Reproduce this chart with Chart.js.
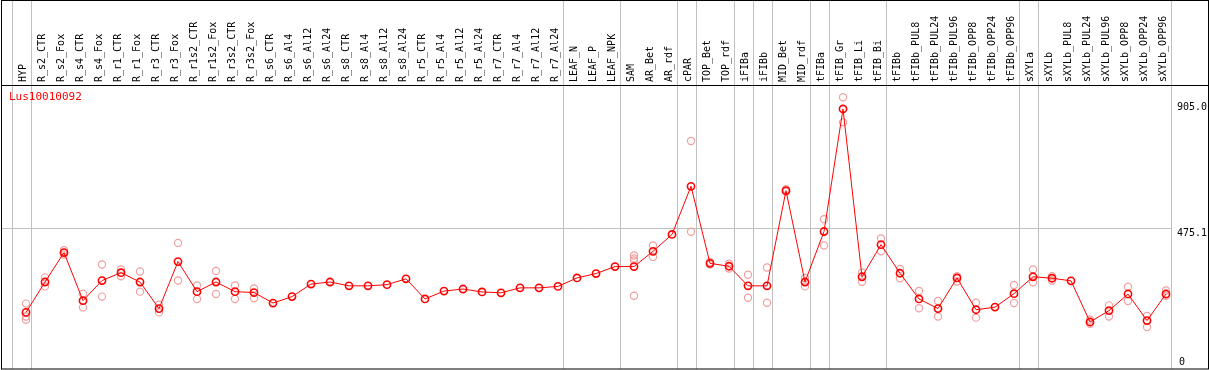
<!DOCTYPE html>
<html>
<head>
<meta charset="utf-8">
<script src="https://cdn.jsdelivr.net/npm/chart.js"></script>
<style>
  html, body { margin: 0; padding: 0; background: #fff; }
  canvas { display: block; }
</style>
</head>
<body>
<canvas id="chart" width="1209" height="370"></canvas>
<script>
const geneName = 'Lus10010092';

const categories = [
  'HYP', 'R_s2_CTR', 'R_s2_Fox', 'R_s4_CTR', 'R_s4_Fox', 'R_r1_CTR', 'R_r1_Fox',
  'R_r3_CTR', 'R_r3_Fox', 'R_r1s2_CTR', 'R_r1s2_Fox', 'R_r3s2_CTR', 'R_r3s2_Fox',
  'R_s6_CTR', 'R_s6_Al4', 'R_s6_Al12', 'R_s6_Al24', 'R_s8_CTR', 'R_s8_Al4',
  'R_s8_Al12', 'R_s8_Al24', 'R_r5_CTR', 'R_r5_Al4', 'R_r5_Al12', 'R_r5_Al24',
  'R_r7_CTR', 'R_r7_Al4', 'R_r7_Al12', 'R_r7_Al24', 'LEAF_N', 'LEAF_P', 'LEAF_NPK',
  'SAM', 'AR_Bet', 'AR_rdf', 'cPAR', 'TOP_Bet', 'TOP_rdf', 'iFIBa', 'iFIBb',
  'MID_Bet', 'MID_rdf', 'tFIBa', 'tFIB_Gr', 'tFIB_Li', 'tFIB_Bi', 'tFIBb',
  'tFIBb_PUL8', 'tFIBb_PUL24', 'tFIBb_PUL96', 'tFIBb_OPP8', 'tFIBb_OPP24', 'tFIBb_OPP96',
  'sXYLa', 'sXYLb', 'sXYLb_PUL8', 'sXYLb_PUL24', 'sXYLb_PUL96', 'sXYLb_OPP8',
  'sXYLb_OPP24', 'sXYLb_OPP96'
];

// mean expression per sample
const meanValues = [
  187, 291, 392, 227, 296, 323, 291, 200, 361, 258, 291, 258, 255,
  219, 241, 284, 291, 278, 278, 282, 302, 233, 260, 267, 257, 254, 271, 271, 276,
  305, 320, 344,
  344, 396, 454, 619, 355, 345, 278, 278, 604, 291, 464, 884, 309, 419, 321,
  233, 200, 305, 196, 205, 251,
  309, 304, 295, 154, 193, 250, 159, 250
];

// individual replicates (empty where only the mean is shown)
const replicates = [
  [217, 173, 162], [307, 276], [400, 385], [251, 204], [351, 241], [334, 311], [327, 258],
  [213, 187], [425, 296], [279, 233], [329, 250], [279, 233], [269, 235],
  [], [], [], [], [], [], [], [], [], [], [], [], [], [], [], [],
  [], [], [],
  [382, 372, 365, 244], [416, 377], [], [774, 463], [360, 351], [354, 337],
  [316, 237], [341, 220], [609, 600], [305, 276], [506, 416], [924, 838],
  [324, 292], [440, 396], [336, 304],
  [260, 201], [226, 173], [311, 293], [220, 169], [], [281, 219],
  [334, 290], [311, 296], [], [162, 148], [211, 173], [275, 226], [175, 137], [262, 244]
];

const yTicks = [0, 475.1, 905.0];
const gridValue = 475.1;

// first sample of each group (vertical separators), plus the end
const groupStarts = ['HYP', 'R_s2_CTR', 'LEAF_N', 'SAM', 'cPAR', 'TOP_Bet', 'iFIBa',
  'iFIBb', 'MID_Bet', 'tFIBa', 'tFIB_Gr', 'tFIBb', 'sXYLa', 'sXYLb'];

const monoFont = '"DejaVu Sans Mono", "Liberation Mono", monospace';

const meanPoints = meanValues.map((v, i) => ({ x: i, y: v }));
const repPoints = [];
replicates.forEach((list, i) => list.forEach(v => repPoints.push({ x: i, y: v })));

const framePlugin = {
  id: 'frame',
  beforeDatasetsDraw(chart) {
    const { ctx, scales: { x, y }, chartArea } = chart;
    ctx.save();
    ctx.strokeStyle = '#c0c0c0';
    ctx.lineWidth = 1;
    const sepIdx = groupStarts.map(n => categories.indexOf(n)).concat([categories.length]);
    sepIdx.forEach(i => {
      const px = Math.round(x.getPixelForValue(i - 0.763)) + 0.5;
      ctx.beginPath();
      ctx.moveTo(px, 0);
      ctx.lineTo(px, chartArea.bottom);
      ctx.stroke();
    });
    const gy = Math.round(y.getPixelForValue(gridValue)) + 0.5;
    const gxEnd = Math.round(x.getPixelForValue(categories.length - 0.763)) + 0.5;
    ctx.beginPath();
    ctx.moveTo(chartArea.left, gy);
    ctx.lineTo(gxEnd, gy);
    ctx.stroke();
    ctx.restore();
  },
  afterDraw(chart) {
    const { ctx, scales: { x, y } } = chart;
    ctx.save();
    ctx.strokeStyle = '#000';
    ctx.lineWidth = 1;
    ctx.strokeRect(1.5, 0.5, 1207, 368.5);
    ctx.beginPath();
    ctx.moveTo(1, 85.5);
    ctx.lineTo(1209, 85.5);
    ctx.stroke();

    // sample names, rotated, read bottom to top
    ctx.font = '10px ' + monoFont;
    ctx.fillStyle = '#000';
    ctx.textAlign = 'left';
    ctx.textBaseline = 'middle';
    categories.forEach((name, i) => {
      ctx.save();
      ctx.translate(x.getPixelForValue(i) - 2.5, 82);
      ctx.rotate(-Math.PI / 2);
      ctx.fillText(name, 0, 0);
      ctx.restore();
    });

    yTicks.forEach(t => {
      const py = y.getPixelForValue(t);
      const txt = t === 0 ? '0' : t.toFixed(1);
      ctx.textBaseline = t === 0 ? 'bottom' : 'top';
      ctx.fillText(txt, t === 0 ? 1179 : 1177, py);
    });

    ctx.fillStyle = '#ff0000';
    ctx.font = '11px ' + monoFont;
    ctx.textBaseline = 'top';
    ctx.fillText(geneName, 9, 92);
    ctx.restore();
  }
};

new Chart(document.getElementById('chart'), {
  type: 'line',
  data: {
    datasets: [
      {
        label: 'mean',
        data: meanPoints,
        borderColor: '#ff0000',
        borderWidth: 1,
        pointStyle: 'circle',
        pointRadius: 3.6,
        pointBorderWidth: 1.6,
        pointBorderColor: '#ff0000',
        pointBackgroundColor: 'rgba(255,255,255,0)',
        tension: 0,
        order: 1
      },
      {
        label: 'replicates',
        data: repPoints,
        showLine: false,
        pointStyle: 'circle',
        pointRadius: 3.6,
        pointBorderWidth: 1.2,
        pointBorderColor: '#f0a0a0',
        pointBackgroundColor: 'rgba(255,255,255,0)',
        order: 2
      }
    ]
  },
  options: {
    responsive: false,
    animation: false,
    devicePixelRatio: 1,
    layout: { autoPadding: false, padding: { left: 1, right: 1, top: 85, bottom: 1 } },
    plugins: { legend: { display: false }, tooltip: { enabled: false } },
    scales: {
      x: {
        type: 'linear',
        display: false,
        min: -1.316,
        max: 62.21
      },
      y: {
        display: false,
        min: -7,
        max: 966
      }
    }
  },
  plugins: [framePlugin]
});
</script>
</body>
</html>
